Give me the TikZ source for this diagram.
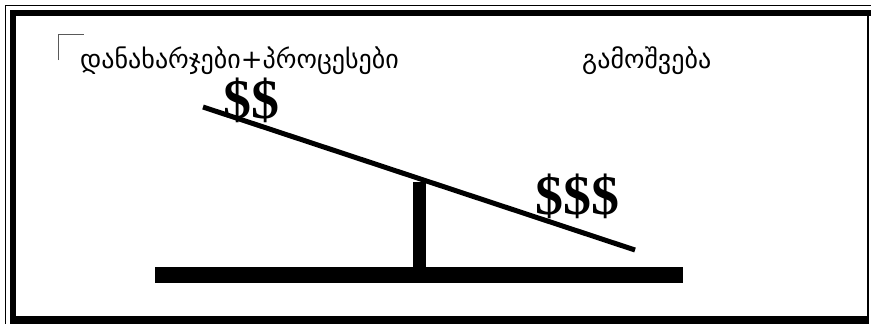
\documentclass[tikz,border=0pt]{standalone}
\usepackage{fontspec}
\newfontfamily\geofont{DejaVu Sans}
\newfontfamily\dollarfont{Liberation Serif}
\begin{document}
\begin{tikzpicture}[x=1pt,y=-1pt,
  thinframe/.style={line width=1.2pt,line cap=rect},
  thickband/.style={fill=black},
  geotext/.style={font=\geofont\fontsize{26}{30}\selectfont,inner sep=0pt,anchor=base west},
  money/.style={font=\dollarfont\bfseries\fontsize{56}{60}\selectfont,inner sep=0pt,anchor=base west}]
\useasboundingbox (0,0) rectangle (871,324);
% frame
\draw[thinframe] (5.5,324) -- (5.5,5.5) -- (871,5.5);
\fill[thickband] (9.5,324) rectangle (16,9.5);
\fill[thickband] (9.5,9.5) rectangle (871,16);
\fill[thickband] (9.5,316) rectangle (868.5,324);
\draw[line width=1.5pt] (868,16) -- (868,316);
% corner mark
\draw[gray!70!black,line width=0.8pt] (58,60) -- (58,34) -- (84,34);
% texts
\node[geotext] (costs) at (80,68) {დანახარჯები+პროცესები};
\node[geotext] (output) at (582,68) {გამოშვება};
% seesaw
\fill (155,267) rectangle (683,283);
\fill (413,182) rectangle (426,267);
\draw[line width=5pt] (203,107) -- (635,250);
\node[money] (two) at (223,118) {\$\$};
\node[money] (three) at (535,214) {\$\$\$};
\end{tikzpicture}
\end{document}
